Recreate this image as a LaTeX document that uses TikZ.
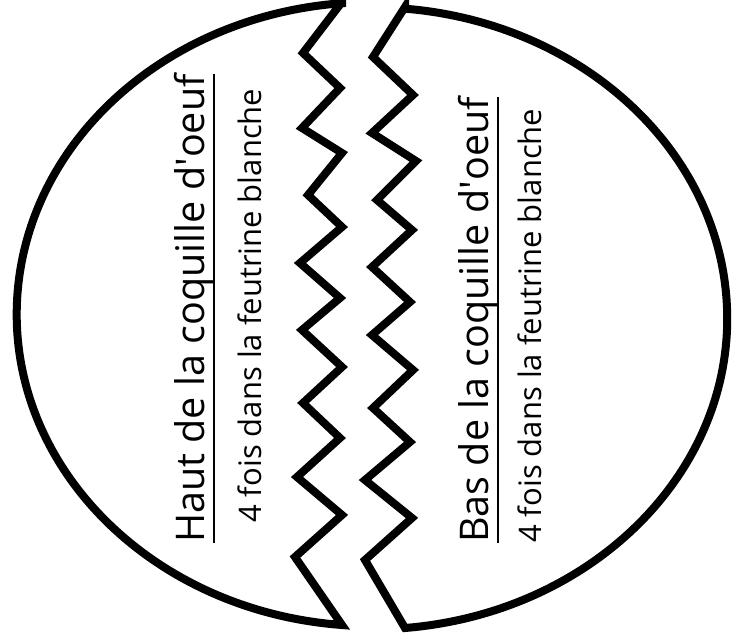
\documentclass[tikz,border=0pt]{standalone}
\usepackage{fontspec}
\setmainfont{Open Sans}
\usetikzlibrary{calc}

\begin{document}
\begin{tikzpicture}[
  x=1pt, y=-1pt,
  shell/.style={draw=black, line width=8pt, line join=miter, miter limit=4},
  title/.style={rotate=90, anchor=base west, inner sep=0pt,
    font=\fontsize{39.5}{42}\selectfont},
  note/.style={rotate=90, anchor=base west, inner sep=0pt,
    font=\fontsize{31}{34}\selectfont},
  uline/.style={draw=black, line width=2pt},
]
\useasboundingbox (0,0) rectangle (732,642);

%% Top half of the shell (left piece)
\coordinate (topTip) at (342,2);
\coordinate (topEnd) at (342,625);
\draw[shell] (topTip) -- (303,53) -- (340,88) -- (302,128) -- (342,153)
  -- (308,195) -- (342,227) -- (300,263) -- (340,298) -- (302,330)
  -- (342,367) -- (303,403) -- (340,438) -- (297,477) -- (342,515)
  -- (295,557) -- (topEnd)
  arc[start angle=94.8, end angle=265.2, x radius=355, y radius=312] -- cycle;

%% Bottom half of the shell (right piece)
\coordinate (botTip) at (405,7);
\coordinate (botEnd) at (405,628);
\draw[shell] (botTip) -- (373,57) -- (413,95) -- (372,133) -- (416,161)
  -- (377,200) -- (412,230) -- (372,267) -- (410,302) -- (372,335)
  -- (413,370) -- (373,408) -- (410,442) -- (365,480) -- (412,518)
  -- (365,560) -- (botEnd)
  arc[start angle=84.7, end angle=-84.7, x radius=355, y radius=311] -- cycle;

%% Labels
\node[title] (hautTitle) at (204,543) {Haut de la coquille d\textquotesingle oeuf};
\node[note]  (hautNote)  at (261,523) {4 fois dans la feutrine blanche};
\node[title] (basTitle)  at (488,543) {Bas de la coquille d\textquotesingle oeuf};
\node[note]  (basNote)   at (541,543) {4 fois dans la feutrine blanche};

%% Underlines
\draw[uline] (hautTitle.south west) -- (hautTitle.south east);
\draw[uline] (basTitle.south west) -- (basTitle.south east);

\end{tikzpicture}
\end{document}
